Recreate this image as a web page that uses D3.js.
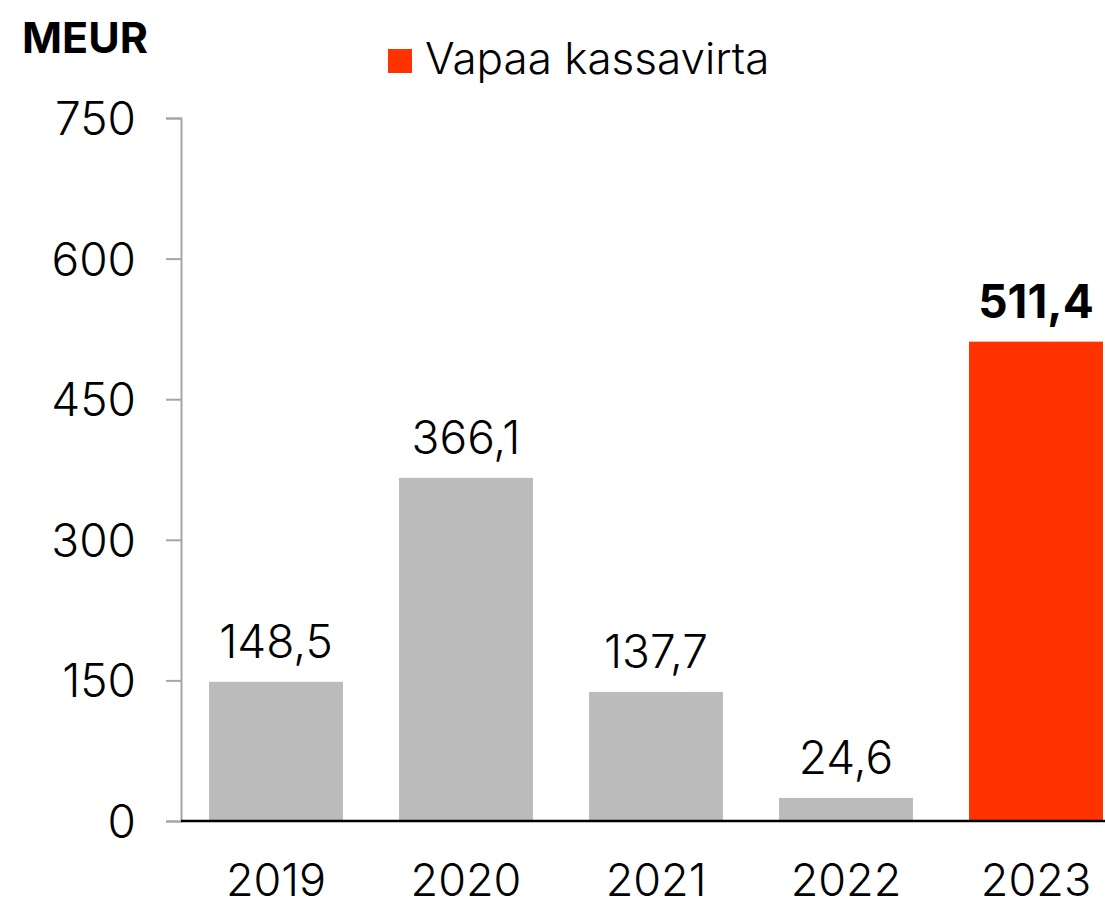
<!DOCTYPE html>
<html>
<head>
<meta charset="utf-8">
<script src="https://cdn.jsdelivr.net/npm/d3@7"></script>
<style>
  body { margin: 0; background: #fff; }
  svg text { font-family: Inter, "Open Sans", sans-serif; fill: #000; font-weight: 300; }
</style>
</head>
<body>
<script>
// data
var years = ['2019', '2020', '2021', '2022', '2023'];
var values = [148.5, 366.1, 137.7, 24.6, 511.4];
var yTicks = [0, 150, 300, 450, 600, 750];
var seriesName = 'Vapaa kassavirta';
var unitLabel = 'MEUR';

var W = 1105, H = 902;

var svg = d3.select('body')
  .append('svg')
  .attr('width', W)
  .attr('height', H);

var x = d3.scaleBand()
  .domain(years)
  .range([181, 1131])
  .paddingInner(0.295)
  .paddingOuter(0.1475);

var y = d3.scaleLinear()
  .domain([0, 750])
  .range([821, 118]);

var fmt = function(v) { return d3.format('.1f')(v).replace('.', ','); };

// y axis
var yAxis = d3.axisLeft(y)
  .tickValues(yTicks)
  .tickSize(15)
  .tickPadding(30)
  .tickFormat(d3.format('d'));

var ya = svg.append('g')
  .attr('transform', 'translate(181,0)')
  .call(yAxis);
ya.select('.domain').attr('stroke', '#a6a6a6').attr('stroke-width', 2);
ya.selectAll('.tick line').attr('stroke', '#a6a6a6').attr('stroke-width', 2);
ya.selectAll('.tick text')
  .style('font-size', '46px')
  .attr('dy', '0.36em');

// bars
var last = years[years.length - 1];
svg.selectAll('rect.bar')
  .data(years)
  .enter()
  .append('rect')
  .attr('class', 'bar')
  .attr('x', function(d) { return x(d); })
  .attr('y', function(d, i) { return y(values[i]); })
  .attr('width', x.bandwidth())
  .attr('height', function(d, i) { return y(0) - y(values[i]); })
  .attr('fill', function(d) { return d === last ? '#ff3300' : '#bbbbbb'; });

// baseline
svg.append('line')
  .attr('x1', 181).attr('x2', W)
  .attr('y1', y(0)).attr('y2', y(0))
  .attr('stroke', '#000').attr('stroke-width', 2.5);

// value labels
svg.selectAll('text.val')
  .data(years)
  .enter()
  .append('text')
  .attr('class', 'val')
  .attr('x', function(d) { return x(d) + x.bandwidth() / 2; })
  .attr('y', function(d, i) { return y(values[i]) - 24; })
  .attr('text-anchor', 'middle')
  .style('font-size', '46px')
  .style('font-weight', function(d) { return d === last ? 700 : 300; })
  .text(function(d, i) { return fmt(values[i]); });

// x labels
svg.selectAll('text.year')
  .data(years)
  .enter()
  .append('text')
  .attr('class', 'year')
  .attr('x', function(d) { return x(d) + x.bandwidth() / 2; })
  .attr('y', 896)
  .attr('text-anchor', 'middle')
  .style('font-size', '45px')
  .text(function(d) { return d; });

// unit label
svg.append('text')
  .attr('x', 22).attr('y', 53)
  .style('font-size', '43px')
  .style('font-weight', 700)
  .text(unitLabel);

// legend
svg.append('rect')
  .attr('x', 388).attr('y', 49)
  .attr('width', 24).attr('height', 24)
  .attr('fill', '#ff3300');
svg.append('text')
  .attr('x', 425).attr('y', 74)
  .style('font-size', '44px')
  .text(seriesName);
</script>
</body>
</html>
